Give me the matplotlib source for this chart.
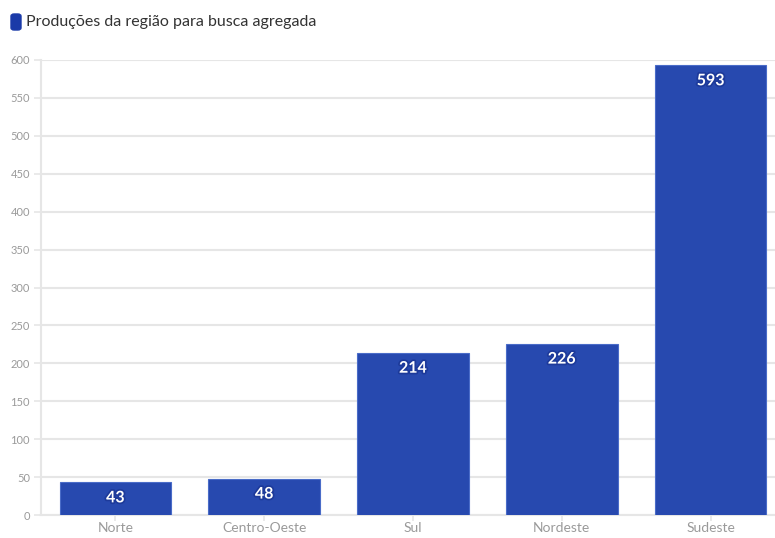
import matplotlib.pyplot as plt
import matplotlib.patheffects as pe
from matplotlib.patches import FancyBboxPatch

regioes = ["Norte", "Centro-Oeste", "Sul", "Nordeste", "Sudeste"]
producoes = [43, 48, 214, 226, 593]
y_ticks = [0, 50, 100, 150, 200, 250, 300, 350, 400, 450, 500, 550, 600]
legenda = "Produções da região para busca agregada"

bar_color = "#2749AF"
grid_color = "#e6e6e6"
tick_color = "#9a9a9a"

plt.rcParams["font.family"] = ["Lato", "DejaVu Sans"]

fig = plt.figure(figsize=(7.75, 5.38), dpi=100)
ax = fig.add_axes([41 / 775, 23 / 538, 744 / 775, 455 / 538])

x = range(len(regioes))
ax.bar(x, producoes, width=0.75, color=bar_color, edgecolor="#4a6cc8",
       linewidth=0.8, zorder=3)

for xi, v in zip(x, producoes):
    ax.annotate(str(v), (xi, v), xytext=(0, -11.5), textcoords="offset points",
                ha="center", va="center", color="white", fontsize=11.5,
                fontweight="bold", zorder=4,
                path_effects=[pe.withStroke(linewidth=2.5, foreground="#1d3a9a")])

ax.set_xlim(-0.5, len(regioes) - 0.5)
ax.set_ylim(0, 600)
ax.set_yticks(y_ticks)
ax.set_xticks(list(x))
ax.set_xticklabels(regioes)

ax.grid(axis="y", color=grid_color, linewidth=1.5, zorder=0)
ax.tick_params(axis="y", colors=grid_color, labelcolor=tick_color,
               labelsize=8, length=5, width=1.2, pad=3)
ax.tick_params(axis="x", colors=grid_color, labelcolor=tick_color,
               labelsize=10, length=4, width=1.2, pad=1)

for side in ["top", "right"]:
    ax.spines[side].set_visible(False)
ax.spines["left"].set_color(grid_color)
ax.spines["left"].set_linewidth(1.5)
ax.spines["bottom"].set_color(grid_color)
ax.spines["bottom"].set_linewidth(1.5)

# legend marker and label at top left
fig.patches.append(FancyBboxPatch((11 / 775, (538 - 30) / 538), 10 / 775, 16 / 538,
                                  boxstyle="round,pad=0,rounding_size=0.004",
                                  transform=fig.transFigure, color="#1a3aa8"))
fig.text(26 / 775, (538 - 22) / 538, legenda, fontsize=11.5, color="#333333",
         va="center", ha="left")

plt.savefig("out.png", dpi=100)
plt.close()
